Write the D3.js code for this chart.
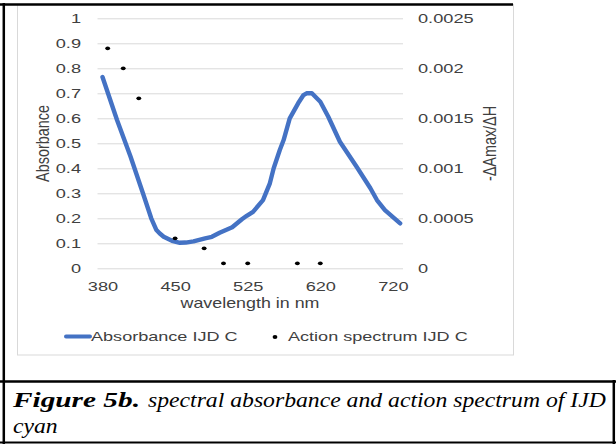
<!DOCTYPE html>
<html>
<head>
<meta charset="utf-8">
<script src="https://cdn.jsdelivr.net/npm/d3@7"></script>
<style>
  body { margin: 0; background: #fff; }
  svg { display: block; }
</style>
</head>
<body>
<svg id="chart" width="616" height="444"></svg>
<script>
// Spectral absorbance of IJD cyan (left axis)
const absWavelength = [380, 394, 407, 419, 427, 432, 435, 439, 447, 455, 461, 469, 481, 488, 496, 509,
  519, 524, 532, 545, 554, 559, 567, 572, 580, 591, 598, 602, 609, 620, 631, 647, 670, 689, 698, 709, 730];
const absorbance = [0.765, 0.593, 0.447, 0.300, 0.200, 0.153, 0.140, 0.126, 0.110, 0.102, 0.103, 0.108,
  0.120, 0.126, 0.142, 0.164, 0.196, 0.210, 0.226, 0.273, 0.340, 0.400, 0.473, 0.513, 0.600, 0.660,
  0.693, 0.700, 0.700, 0.666, 0.606, 0.506, 0.406, 0.320, 0.273, 0.233, 0.180];

// Action spectrum of IJD cyan (right axis)
const actWavelength = [385, 400, 415, 450, 480, 500, 525, 590, 620];
const actionSpectrum = [0.0022, 0.0020, 0.0017, 0.0003, 0.0002, 0.00005, 0.00005, 0.00005, 0.00005];

// Axis labels
const xTickLabels = [380, 450, 525, 620, 720];
const leftTicks = [0, 0.1, 0.2, 0.3, 0.4, 0.5, 0.6, 0.7, 0.8, 0.9, 1];
const rightTicks = [0, 0.0005, 0.001, 0.0015, 0.002, 0.0025];

const seriesNames = ["Absorbance IJD C", "Action spectrum IJD C"];
const captionBold = "Figure 5b.";
const captionLine1 = "spectral absorbance and action spectrum of IJD";
const captionLine2 = "cyan";

// ---- layout ----
const W = 616, H = 444;
const plot = { left: 97.5, right: 403, top: 18.3, bottom: 268.3 };
const labelStart = plot.left + 5, labelGap = 72.6;
const sans = "'Liberation Sans', Arial, Helvetica, sans-serif";
const serif = "'Liberation Serif', 'Times New Roman', Times, serif";
const blue = "#4472C4";
const textCol = "#404040";

const svg = d3.select("#chart");
svg.append("rect").attr("width", W).attr("height", H).attr("fill", "#fff");

// Chart area frame
svg.append("rect")
  .attr("x", 17.5).attr("y", 4.5).attr("width", 496).attr("height", 350.5)
  .attr("fill", "#fff").attr("stroke", "#d9d9d9").attr("stroke-width", 1);

// ---- scales ----
const x = d3.scaleLinear()
  .domain(xTickLabels)
  .range(xTickLabels.map((d, i) => labelStart + i * labelGap));
const yLeft = d3.scaleLinear().domain([0, 1]).range([plot.bottom, plot.top]);
const yRight = d3.scaleLinear().domain([0, 0.0025]).range([plot.bottom, plot.top]);

// ---- gridlines ----
const grid = svg.append("g").attr("transform", `translate(${plot.left},0)`)
  .call(d3.axisLeft(yLeft).tickValues(leftTicks).tickSize(-(plot.right - plot.left)).tickFormat(""));
grid.select(".domain").remove();
grid.selectAll("line").attr("stroke", "#d9d9d9").attr("stroke-width", 1);

// ---- axes (labels stretched horizontally) ----
const tickFont = 13, tickSX = 1.40;

const gL = svg.append("g").attr("transform", `translate(81,0)`)
  .call(d3.axisLeft(yLeft).tickValues(leftTicks).tickSize(0).tickPadding(0).tickFormat(d3.format("~g")));
gL.select(".domain").remove();
gL.selectAll("text")
  .attr("x", null)
  .attr("transform", `scale(${tickSX},1)`)
  .attr("font-family", sans).attr("font-size", tickFont).attr("fill", textCol);

const gR = svg.append("g").attr("transform", `translate(418,0)`)
  .call(d3.axisRight(yRight).tickValues(rightTicks).tickSize(0).tickPadding(0).tickFormat(d3.format("~g")));
gR.select(".domain").remove();
gR.selectAll("text")
  .attr("x", null)
  .attr("transform", `scale(${tickSX},1)`)
  .attr("font-family", sans).attr("font-size", tickFont).attr("fill", textCol);

const gX = svg.append("g").attr("transform", `translate(0,286.5)`)
  .call(d3.axisBottom(x).tickValues(xTickLabels).tickSize(0).tickPadding(0).tickFormat(d3.format("d")));
gX.select(".domain").remove();
gX.selectAll("text")
  .attr("y", null).attr("dy", "0.35em")
  .attr("transform", `scale(${tickSX},1)`)
  .attr("font-family", sans).attr("font-size", tickFont).attr("fill", textCol);
[gL, gR, gX].forEach(g => g.attr("font-family", null).attr("font-size", null));

// ---- axis titles ----
const titleFont = 14.4;
svg.append("text")
  .attr("transform", `translate(250,303) scale(1.24,1)`)
  .attr("text-anchor", "middle").attr("dy", "0.35em")
  .attr("font-family", sans).attr("font-size", titleFont).attr("fill", textCol)
  .text("wavelength in nm");
svg.append("text")
  .attr("transform", `translate(43,143.5) scale(1.24,1) rotate(-90)`)
  .attr("text-anchor", "middle").attr("dy", "0.35em")
  .attr("font-family", sans).attr("font-size", titleFont).attr("fill", textCol)
  .text("Absorbance");
svg.append("text")
  .attr("transform", `translate(490,143.5) scale(1.24,1) rotate(-90)`)
  .attr("text-anchor", "middle").attr("dy", "0.35em")
  .attr("font-family", sans).attr("font-size", titleFont).attr("fill", textCol)
  .text("-\u0394Amax/\u0394H");

// ---- absorbance line ----
const absData = absWavelength.map((w, i) => ({ w, v: absorbance[i] }));
svg.append("path")
  .datum(absData)
  .attr("fill", "none").attr("stroke", blue).attr("stroke-width", 4.4)
  .attr("stroke-linejoin", "round").attr("stroke-linecap", "round")
  .attr("d", d3.line().x(d => x(d.w)).y(d => yLeft(d.v)));

// ---- action spectrum markers ----
const actData = actWavelength.map((w, i) => ({ w, v: actionSpectrum[i] }));
svg.append("g").selectAll("ellipse").data(actData).join("ellipse")
  .attr("cx", d => x(d.w)).attr("cy", d => yRight(d.v))
  .attr("rx", 2.4).attr("ry", 1.9).attr("fill", "#000");

// ---- legend ----
const legY = 336.5, legSX = 1.39;
svg.append("line").attr("x1", 66).attr("x2", 90).attr("y1", legY).attr("y2", legY)
  .attr("stroke", blue).attr("stroke-width", 4).attr("stroke-linecap", "round");
svg.append("text")
  .attr("transform", `translate(91,${legY}) scale(${legSX},1)`).attr("dy", "0.35em")
  .attr("font-family", sans).attr("font-size", 13).attr("fill", textCol)
  .text(seriesNames[0]);
svg.append("ellipse").attr("cx", 275).attr("cy", legY + 0.5).attr("rx", 2.4).attr("ry", 1.9).attr("fill", "#000");
svg.append("text")
  .attr("transform", `translate(288,${legY}) scale(${legSX},1)`).attr("dy", "0.35em")
  .attr("font-family", sans).attr("font-size", 13).attr("fill", textCol)
  .text(seriesNames[1]);

// ---- outer frame ----
const frame = svg.append("g").attr("stroke", "#000").attr("fill", "none");
frame.append("line").attr("x1", 0).attr("x2", 513).attr("y1", 4.5).attr("y2", 4.5).attr("stroke-width", 2.5);
frame.append("line").attr("x1", 3.8).attr("x2", 3.8).attr("y1", 3).attr("y2", H).attr("stroke-width", 2.5);
frame.append("line").attr("x1", 0).attr("x2", W).attr("y1", 381.5).attr("y2", 381.5).attr("stroke-width", 2.5);
frame.append("line").attr("x1", 613.8).attr("x2", 613.8).attr("y1", 380).attr("y2", H).attr("stroke-width", 2.5);
frame.append("line").attr("x1", 0).attr("x2", W).attr("y1", 442.5).attr("y2", 442.5).attr("stroke-width", 2);

// ---- caption: bold lead-in, then a justified first line and a short second line ----
const capFont = 21, capLeft = 13, capRight = 606, boldRight = 140, restLeft = 148;
function fitText(sel, left, right, baseline) {
  sel.attr("transform", `translate(${left},${baseline})`);
  const w = sel.node().getComputedTextLength();
  const sx = (right - left) / w;
  sel.attr("transform", `translate(${left},${baseline}) scale(${sx},1)`);
  return sx;
}
const capBold = svg.append("text")
  .attr("font-family", serif).attr("font-size", capFont).attr("font-style", "italic")
  .attr("font-weight", "bold").attr("fill", "#000").text(captionBold);
fitText(capBold, capLeft, boldRight, 407);
const capRest = svg.append("text")
  .attr("font-family", serif).attr("font-size", capFont).attr("font-style", "italic")
  .attr("fill", "#000").text(captionLine1);
const restSX = fitText(capRest, restLeft, capRight, 407);
svg.append("text")
  .attr("transform", `translate(${capLeft},433) scale(${restSX},1)`)
  .attr("font-family", serif).attr("font-size", capFont).attr("font-style", "italic").attr("fill", "#000")
  .text(captionLine2);
</script>
</body>
</html>
